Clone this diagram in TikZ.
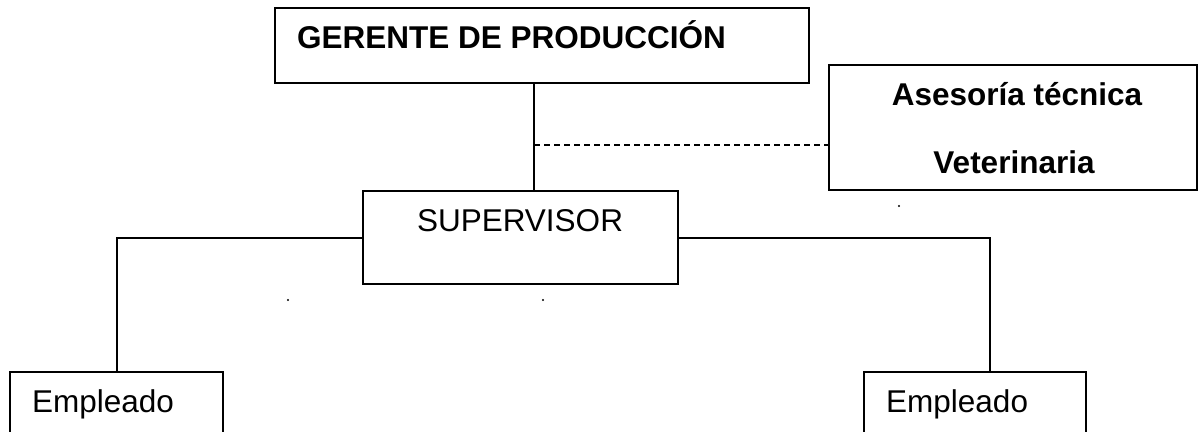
\documentclass[tikz,border=0pt]{standalone}
\usepackage{fontspec}
\setmainfont{Liberation Sans}
\begin{document}
\begin{tikzpicture}[x=1pt,y=-1pt,
  box/.style={draw, line width=2pt, rectangle, inner sep=0pt},
  lbl/.style={inner sep=0pt, font=\fontsize{31.5}{38}\selectfont},
  conn/.style={line width=2pt},
  dotmark/.style={fill=black, circle, inner sep=0pt, minimum size=2.2pt}]
\useasboundingbox (0,0) rectangle (1199,431);
% boxes
\node[box, minimum width=534pt, minimum height=75pt] (ger) at (542,45.5) {};
\node[box, minimum width=368pt, minimum height=125pt] (ase) at (1013,127) {};
\node[box, minimum width=315pt, minimum height=93pt] (sup) at (520.5,237.5) {};
\node[box, minimum width=213pt, minimum height=120pt] (emp1) at (116.5,432) {};
\node[box, minimum width=222pt, minimum height=120pt] (emp2) at (975,432) {};
% texts
\node[lbl, anchor=base west, font=\fontsize{31.5}{38}\selectfont\bfseries] (tger) at (297,48) {GERENTE DE PRODUCCIÓN};
\node[lbl, anchor=base, font=\fontsize{31.5}{38}\selectfont\bfseries] (tase1) at (1017,105) {Asesoría técnica};
\node[lbl, anchor=base, font=\fontsize{31.5}{38}\selectfont\bfseries] (tase2) at (1014,173) {Veterinaria};
\node[lbl, anchor=base] (tsup) at (520,231) {SUPERVISOR};
\node[lbl, anchor=base west] (temp1) at (32,412) {Empleado};
\node[lbl, anchor=base west] (temp2) at (886,412) {Empleado};
% connectors
\coordinate (j) at (534,145);
\coordinate (e2) at (990,0);
\draw[conn] (ger.south -| j) -- (sup.north -| j);
\draw[line width=1.6pt, dash pattern=on 6pt off 4pt] (j) -- (ase.west |- j);
\draw[conn] (sup.west) -| (emp1.north);
\draw[conn] (sup.east) -| (e2 |- emp2.north);
% stray dots
\node[dotmark] (d1) at (899,206) {};
\node[dotmark] (d2) at (288,300) {};
\node[dotmark] (d3) at (543,300) {};
\end{tikzpicture}
\end{document}
